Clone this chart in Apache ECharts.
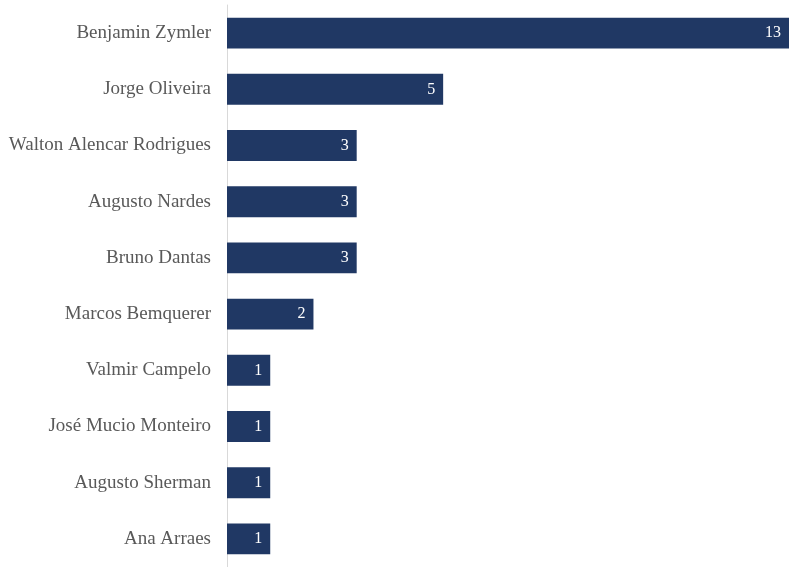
<!DOCTYPE html>
<html>
<head>
<meta charset="utf-8">
<script src="https://cdn.jsdelivr.net/npm/echarts@6/dist/echarts.min.js"></script>
<style>
  html, body { margin: 0; padding: 0; background: #ffffff; }
  #chart { width: 789px; height: 567px; }
</style>
</head>
<body>
<div id="chart"></div>
<script>
// Ministers, listed top to bottom, and the number of cases each one reported
const ministers = [
  'Benjamin Zymler',
  'Jorge Oliveira',
  'Walton Alencar Rodrigues',
  'Augusto Nardes',
  'Bruno Dantas',
  'Marcos Bemquerer',
  'Valmir Campelo',
  'José Mucio Monteiro',
  'Augusto Sherman',
  'Ana Arraes'
];
const counts = [13, 5, 3, 3, 3, 2, 1, 1, 1, 1];

const chart = echarts.init(document.getElementById('chart'), null, { renderer: 'canvas' });

chart.setOption({
  animation: false,
  backgroundColor: '#ffffff',
  grid: { left: 227, right: -1, top: 5, bottom: -2, containLabel: false },
  xAxis: {
    type: 'value',
    min: 0,
    max: 13,
    show: false
  },
  yAxis: {
    type: 'category',
    data: ministers,
    inverse: true,
    axisLine: { show: true, lineStyle: { color: '#d9d9d9', width: 1 } },
    axisTick: { show: false },
    axisLabel: {
      margin: 16,
      color: '#595959',
      fontFamily: '"Liberation Serif", "Times New Roman", serif',
      fontSize: 19
    },
    splitLine: { show: false }
  },
  series: [{
    type: 'bar',
    data: counts,
    barCategoryGap: '45%',
    itemStyle: { color: '#203864' },
    label: {
      show: true,
      position: 'insideRight',
      distance: 8,
      color: '#ffffff',
      fontFamily: '"Liberation Serif", "Times New Roman", serif',
      fontSize: 16
    }
  }]
});
</script>
</body>
</html>
